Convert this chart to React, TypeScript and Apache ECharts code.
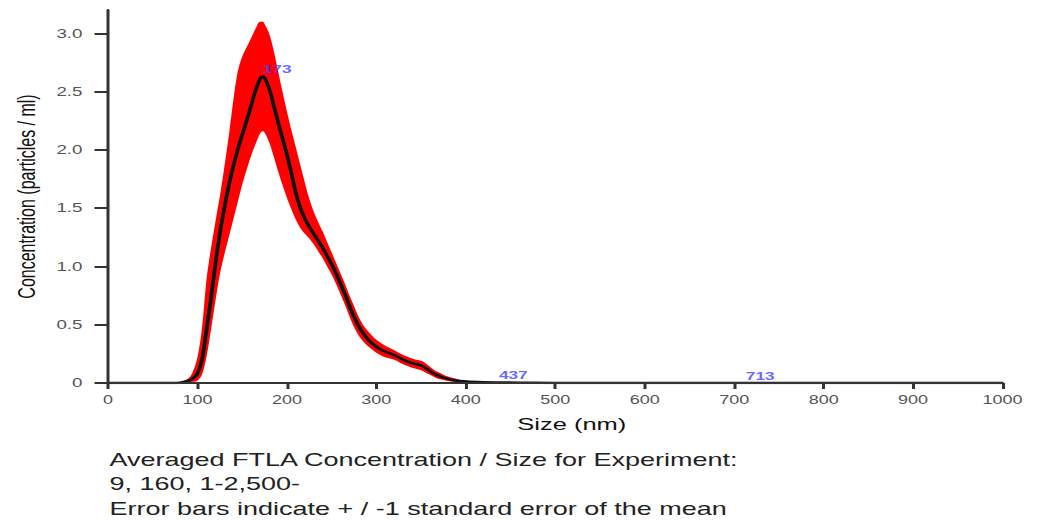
import React, { useEffect, useRef } from "react";
import * as echarts from "echarts";

// Size (nm) sampling points
const sizes = [0, 60, 80, 90, 95, 100, 105, 110, 115, 120, 125, 130, 135, 140, 145, 150, 155, 160, 165, 170, 173, 175, 180, 185, 190, 195, 200, 205, 210, 215, 220, 225, 230, 235, 240, 245, 250, 255, 260, 265, 270, 275, 280, 285, 290, 300, 310, 320, 330, 340, 350, 355, 360, 365, 370, 380, 390, 400, 420, 437, 460, 500, 713, 1000];
// Mean concentration
const meanConc = [0, 0, 0.003, 0.02, 0.04, 0.08, 0.2, 0.45, 0.72, 1.02, 1.28, 1.5, 1.69, 1.86, 2.0, 2.13, 2.25, 2.38, 2.51, 2.61, 2.63, 2.62, 2.53, 2.39, 2.24, 2.1, 1.96, 1.8, 1.63, 1.5, 1.41, 1.34, 1.28, 1.22, 1.16, 1.09, 1.02, 0.94, 0.85, 0.76, 0.66, 0.57, 0.49, 0.43, 0.38, 0.31, 0.27, 0.24, 0.2, 0.17, 0.15, 0.13, 0.1, 0.08, 0.06, 0.035, 0.02, 0.012, 0.006, 0.004, 0.003, 0.001, 0.001, 0];
// Mean + 1 SEM
const upperConc = [0, 0, 0.006, 0.04, 0.1, 0.22, 0.47, 0.88, 1.15, 1.38, 1.6, 1.85, 2.12, 2.42, 2.67, 2.8, 2.88, 2.96, 3.04, 3.1, 3.1, 3.08, 3.0, 2.86, 2.68, 2.5, 2.33, 2.17, 2.02, 1.87, 1.72, 1.58, 1.47, 1.38, 1.3, 1.21, 1.12, 1.03, 0.94, 0.85, 0.75, 0.66, 0.57, 0.5, 0.45, 0.37, 0.32, 0.28, 0.24, 0.21, 0.19, 0.17, 0.14, 0.11, 0.09, 0.055, 0.035, 0.022, 0.012, 0.008, 0.005, 0.002, 0.001, 0];
// Mean - 1 SEM
const lowerConc = [0, 0, 0.001, 0.005, 0.01, 0.02, 0.07, 0.22, 0.45, 0.7, 0.93, 1.1, 1.25, 1.4, 1.55, 1.7, 1.83, 1.95, 2.05, 2.14, 2.16, 2.15, 2.07, 1.95, 1.82, 1.7, 1.59, 1.49, 1.4, 1.33, 1.28, 1.24, 1.19, 1.13, 1.07, 1.0, 0.93, 0.85, 0.76, 0.67, 0.57, 0.48, 0.41, 0.36, 0.32, 0.26, 0.22, 0.2, 0.16, 0.13, 0.11, 0.09, 0.07, 0.05, 0.035, 0.018, 0.008, 0.004, 0.002, 0.001, 0.001, 0, 0, 0];
// Labelled peaks
const peakSizes = [173, 437, 713];
const peakConc = [2.63, 0.004, 0.001];
// Axis ticks
const yTicks = [0, 0.5, 1, 1.5, 2, 2.5, 3];
const xMin = 0;
const xMax = 1000;
const xInterval = 100;
const captionLines = [
  "Averaged FTLA Concentration / Size for Experiment:",
  "9, 160, 1-2,500-",
  "Error bars indicate + / -1 standard error of the mean",
];

const SX = 1.5; // the reference image is horizontally stretched
const W = 1037 / SX;
const H = 520;
const FONT = "'Liberation Sans', Arial, Helvetica, sans-serif";

export default function App() {
  const ref = useRef<HTMLDivElement>(null);
  useEffect(() => {
    if (!ref.current) return;
    const chart = echarts.init(ref.current, undefined, { renderer: "svg" });
    const smooth = 0.35;
    const option: any = {
      animation: false,
      backgroundColor: "#ffffff",
      grid: { left: 72, right: W - 668.7, top: 10, bottom: H - 383 },
      xAxis: {
        type: "value",
        min: xMin,
        max: xMax,
        interval: xInterval,
        z: 10,
        axisLine: { show: true, onZero: false, lineStyle: { color: "#333", width: 2 } },
        axisTick: { show: true, length: 6, lineStyle: { color: "#333", width: 2 } },
        axisLabel: { color: "#555", fontSize: 12, margin: 11, fontFamily: FONT, formatter: (v: number) => String(v) },
        splitLine: { show: false },
        name: "Size (nm)",
        nameLocation: "middle",
        nameGap: 33,
        nameTextStyle: { fontSize: 17, color: "#111", fontFamily: FONT, padding: [0, 0, 0, 22] },
      },
      yAxis: {
        type: "value",
        min: 0,
        max: 3.2,
        z: 10,
        axisLine: { show: true, lineStyle: { color: "#333", width: 2 } },
        axisTick: { show: true, length: 9, customValues: yTicks, lineStyle: { color: "#333", width: 2 } },
        axisLabel: {
          customValues: yTicks,
          color: "#555",
          fontSize: 12.5,
          margin: 17,
          fontFamily: FONT,
          formatter: (v: number) => (v === 0 ? "0" : v.toFixed(1)),
        },
        splitLine: { show: false },
        name: "Concentration (particles / ml)",
        nameLocation: "middle",
        nameGap: 46,
        nameRotate: 90,
        nameTextStyle: { fontSize: 16, color: "#111", fontFamily: FONT },
      },
      series: [
        {
          type: "line",
          name: "upper",
          data: sizes.map((s, i) => [s, upperConc[i]]),
          symbol: "none",
          smooth,
          lineStyle: { opacity: 0 },
          areaStyle: { color: "#ff0000", opacity: 1 },
          z: 1,
        },
        {
          type: "line",
          name: "lower",
          data: sizes.map((s, i) => [s, lowerConc[i]]),
          symbol: "none",
          smooth,
          lineStyle: { opacity: 0 },
          areaStyle: { color: "#ffffff", opacity: 1 },
          z: 2,
        },
        {
          type: "line",
          name: "mean",
          data: sizes.map((s, i) => [s, meanConc[i]]),
          symbol: "none",
          smooth,
          lineStyle: { color: "#111", width: 2.5 },
          z: 3,
        },
        {
          type: "scatter",
          name: "peaks",
          data: peakSizes.map((s, i) => [s, peakConc[i]]),
          symbolSize: 0,
          z: 4,
          label: {
            show: true,
            position: "top",
            align: "left",
            distance: 1,
            color: "#4040ff",
            fontSize: 11.5,
            fontWeight: "bold",
            fontFamily: FONT,
            formatter: (p: any) => String(p.value[0]),
          },
        },
      ],
      graphic: captionLines.map((t, i) => ({
        type: "text",
        left: 73,
        top: 450.5 + i * 24.5,
        style: { text: t, fontSize: 18, fill: "#222", font: `18px ${FONT}` },
      })),
    };
    chart.setOption(option);
    return () => chart.dispose();
  }, []);
  return (
    <div
      ref={ref}
      style={{
        position: "absolute",
        left: 0,
        top: 0,
        width: W,
        height: H,
        transform: `scaleX(${SX})`,
        transformOrigin: "0 0",
      }}
    />
  );
}
